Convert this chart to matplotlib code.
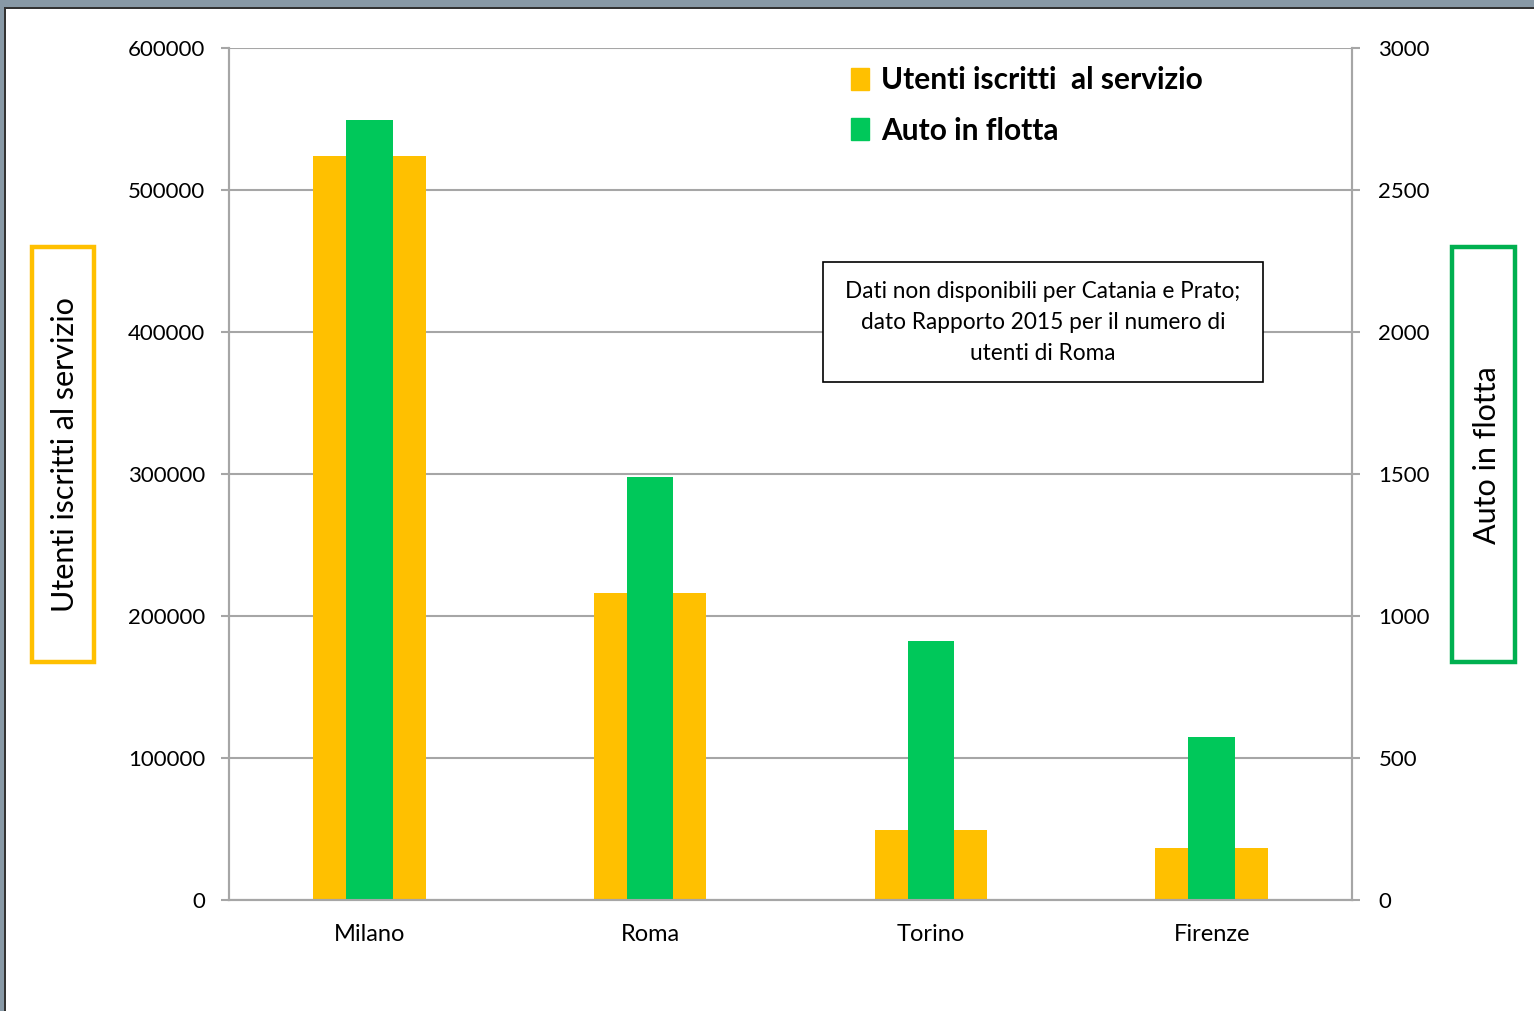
import matplotlib.pyplot as plt
from matplotlib.patches import Rectangle, Patch
import numpy as np

cities = ['Milano', 'Roma', 'Torino', 'Firenze']
utenti = [524000, 216000, 49300, 36800]
auto = [2745, 1488, 912, 575]

yellow = '#FFC000'
green = '#00C85A'
grid_col = '#A6A6A6'

plt.rcParams['font.family'] = ['Lato', 'DejaVu Sans']

W, H = 1534, 1011
fig = plt.figure(figsize=(W / 100, H / 100), dpi=100)

# axes placed in pixel terms
l, r, t, b = 229, 1352, 48, 900
ax = fig.add_axes([l / W, 1 - b / H, (r - l) / W, (b - t) / H])
ax2 = ax.twinx()

x = np.arange(len(cities))
ax.bar(x, utenti, width=0.4, color=yellow, zorder=2)
ax2.bar(x, auto, width=0.165, color=green, zorder=2)

ax.set_xlim(-0.5, 3.5)
ax.set_ylim(0, 600000)
ax2.set_ylim(0, 3000)
ax.set_yticks(np.arange(0, 600001, 100000))
ax2.set_yticks(np.arange(0, 3001, 500))
ax.set_xticks(x)
ax.set_xticklabels(cities)

ax.yaxis.grid(True, color=grid_col, linewidth=1.5, zorder=0)
ax.set_axisbelow(True)

for a in (ax, ax2):
    a.spines['top'].set_visible(False)
    for s in ('left', 'right', 'bottom'):
        a.spines[s].set_color(grid_col)
        a.spines[s].set_linewidth(1.5)
    a.tick_params(axis='y', direction='out', length=6, width=1.5, color=grid_col,
                  labelsize=16, pad=11)
ax.tick_params(axis='x', length=0, labelsize=17, pad=17)
ax2.tick_params(axis='y', pad=13)

# legend
handles = [Patch(color=yellow, label='Utenti iscritti  al servizio'),
           Patch(color=green, label='Auto in flotta')]
ax2.legend(handles=handles, loc='upper left', bbox_to_anchor=(0.53, 1.01),
           frameon=False, handlelength=0.6, handleheight=0.75, handletextpad=0.4,
           labelspacing=0.75, prop={'weight': 'bold', 'size': 21.5})

# note box (white fill hides the gridline behind it)
ax2.add_patch(Rectangle((0.529, 0.608), 0.392, 0.141, transform=ax.transAxes,
                        fc='white', ec='black', lw=1.2, zorder=5, clip_on=False))
ax2.text(0.7248, 0.678, 'Dati non disponibili per Catania e Prato;\n'
         'dato Rapporto 2015 per il numero di\nutenti di Roma',
         transform=ax.transAxes, ha='center', va='center', fontsize=16.3,
         linespacing=1.6, zorder=6)

# axis title boxes
fig.patches.append(Rectangle((32 / W, 1 - 662 / H), 62 / W, 415 / H,
                             transform=fig.transFigure, fill=False,
                             ec=yellow, lw=3.2))
fig.patches.append(Rectangle((1452 / W, 1 - 662 / H), 63 / W, 415 / H,
                             transform=fig.transFigure, fill=False,
                             ec='#00B050', lw=3.2))
fig.text(65 / W, 1 - 455 / H, 'Utenti iscritti al servizio', rotation=90,
         ha='center', va='center', fontsize=22)
fig.text(1487 / W, 1 - 455 / H, 'Auto in flotta', rotation=90,
         ha='center', va='center', fontsize=22)

# window frame
fig.patches.append(Rectangle((0, 1 - 7 / H), 1, 7 / H, transform=fig.transFigure,
                             fc='#8899A6', ec='none'))
fig.patches.append(Rectangle((0, 0), 4 / W, 1, transform=fig.transFigure,
                             fc='#8899A6', ec='none'))
fig.patches.append(Rectangle((4 / W, 0), 2 / W, 1 - 7 / H, transform=fig.transFigure,
                             fc='#333333', ec='none'))
fig.patches.append(Rectangle((4 / W, 1 - 9 / H), 1, 2 / H, transform=fig.transFigure,
                             fc='#333333', ec='none'))

fig.savefig('out.png', dpi=100)
